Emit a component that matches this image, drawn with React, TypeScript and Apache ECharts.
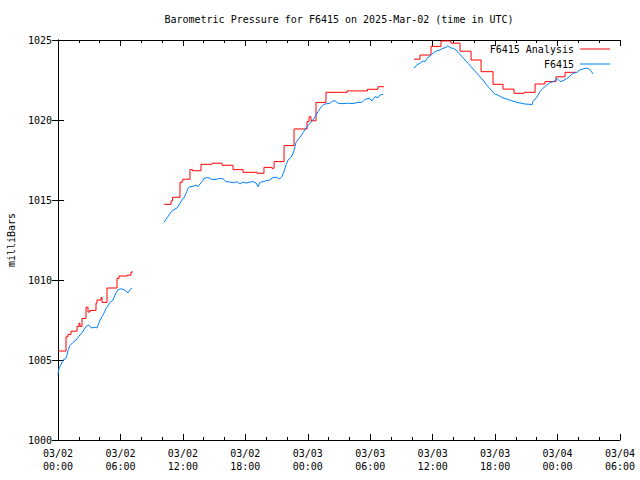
import React, { useEffect, useRef } from "react";
import * as echarts from "echarts";

const TITLE = "Barometric Pressure for F6415 on 2025-Mar-02 (time in UTC)";
const Y_NAME = "milliBars";
const SERIES_NAMES = ["F6415 Analysis", "F6415"];
const X_MIN = 0;
const X_MAX = 54;
const X_STEP = 6;
const Y_MIN = 1000;
const Y_MAX = 1025;
const Y_STEP = 5;

// hours since 03/02 00:00 UTC, millibars
const analysisSeg1: [number, number][] = [
  [0.0, 1005.56], [0.77, 1006.45], [0.96, 1006.6], [1.25, 1006.8], [1.83, 1007.1],
  [2.02, 1007.3], [2.11, 1007.1], [2.31, 1007.6], [2.69, 1008.3], [2.88, 1008.0],
  [3.07, 1008.1], [3.65, 1008.55], [3.75, 1008.75], [4.13, 1008.9], [4.23, 1008.6],
  [4.71, 1009.5], [5.67, 1010.1], [5.86, 1010.25], [6.63, 1010.3], [7.01, 1010.5],
  [7.2, 1010.5],
];
const analysisSeg2: [number, number][] = [
  [10.19, 1014.73], [10.86, 1014.94], [11.0, 1015.17], [11.72, 1016.1], [11.92, 1016.2],
  [12.01, 1016.3], [12.68, 1016.9], [12.92, 1016.83], [13.74, 1017.23], [14.8, 1017.3],
  [15.76, 1017.17], [16.82, 1016.9], [17.78, 1016.73], [19.12, 1016.67], [19.79, 1017.04],
  [20.56, 1016.98], [20.76, 1017.4], [21.72, 1018.4], [22.68, 1019.44], [23.93, 1019.9],
  [24.12, 1020.2], [24.31, 1019.95], [24.79, 1021.1], [25.75, 1021.73], [27.77, 1021.82],
  [29.74, 1021.92], [30.75, 1022.08], [31.33, 1022.08],
];
const analysisSeg3: [number, number][] = [
  [34.21, 1023.8], [34.78, 1024.06], [35.84, 1024.6], [36.8, 1024.94], [37.76, 1024.8],
  [38.63, 1024.3], [39.69, 1023.75], [40.65, 1023.02], [41.8, 1022.23], [42.76, 1021.93],
  [43.82, 1021.67], [44.78, 1021.73], [45.84, 1022.25], [46.8, 1022.4], [47.85, 1022.7],
  [48.72, 1022.98], [49.77, 1022.98],
];

const stationSeg1: [number, number][] = [
  [0.0, 1004.1], [0.1, 1004.5], [0.29, 1004.7], [0.48, 1005.0], [0.77, 1005.1],
  [0.86, 1005.3], [0.96, 1005.6], [1.15, 1005.9], [1.44, 1006.1], [1.73, 1006.25],
  [2.02, 1006.5], [2.31, 1006.7], [2.59, 1007.0], [2.88, 1007.2], [3.07, 1007.1],
  [3.27, 1007.0], [3.56, 1007.05], [3.75, 1007.0], [4.04, 1007.5], [4.32, 1007.8],
  [4.61, 1008.2], [5.0, 1008.6], [5.28, 1008.75], [5.57, 1009.2], [5.77, 1009.4],
  [6.05, 1009.45], [6.34, 1009.4], [6.53, 1009.3], [6.73, 1009.2], [6.92, 1009.4],
  [7.11, 1009.5],
];
const stationSeg2: [number, number][] = [
  [10.19, 1013.6], [10.38, 1013.8], [10.57, 1013.96], [10.86, 1014.27], [11.15, 1014.4],
  [11.43, 1014.5], [11.72, 1014.8], [11.92, 1015.0], [12.11, 1015.17], [12.3, 1015.4],
  [12.49, 1015.73], [12.68, 1015.83], [12.97, 1015.85], [13.26, 1015.94], [13.45, 1015.83],
  [13.64, 1016.0], [13.84, 1016.15], [14.03, 1016.35], [14.32, 1016.4], [14.51, 1016.38],
  [14.7, 1016.3], [14.89, 1016.28], [15.28, 1016.3], [15.57, 1016.35], [15.85, 1016.33],
  [16.14, 1016.15], [16.53, 1016.12], [16.91, 1016.08], [17.2, 1016.15], [17.49, 1016.0],
  [17.78, 1016.12], [18.06, 1016.06], [18.45, 1016.12], [18.74, 1016.15], [19.03, 1016.06],
  [19.22, 1015.83], [19.41, 1016.1], [19.7, 1016.15], [19.99, 1016.2], [20.37, 1016.25],
  [20.56, 1016.38], [20.76, 1016.42], [21.04, 1016.42], [21.24, 1016.3], [21.52, 1016.46],
  [21.72, 1016.8], [21.91, 1017.2], [22.1, 1017.5], [22.29, 1017.6], [22.48, 1017.75],
  [22.68, 1018.1], [22.87, 1018.6], [23.16, 1018.85], [23.35, 1019.0], [23.54, 1019.2],
  [23.83, 1019.5], [24.12, 1019.73], [24.41, 1019.94], [24.7, 1020.2], [24.98, 1020.52],
  [25.27, 1020.8], [25.56, 1020.98], [25.85, 1021.02], [26.13, 1021.05], [26.42, 1021.19],
  [26.62, 1021.2], [26.9, 1021.05], [27.39, 1021.02], [27.87, 1021.05], [28.35, 1021.03],
  [28.83, 1021.1], [29.21, 1021.1], [29.5, 1021.3], [29.89, 1021.35], [30.18, 1021.2],
  [30.46, 1021.46], [30.75, 1021.4], [30.94, 1021.56], [31.23, 1021.6],
];
const stationSeg3: [number, number][] = [
  [34.21, 1023.23], [34.4, 1023.4], [34.59, 1023.48], [34.78, 1023.55], [35.07, 1023.69],
  [35.26, 1023.65], [35.46, 1023.85], [35.74, 1024.0], [36.03, 1024.17], [36.32, 1024.3],
  [36.71, 1024.38], [36.99, 1024.48], [37.28, 1024.54], [37.47, 1024.64], [37.67, 1024.52],
  [37.96, 1024.48], [38.24, 1024.38], [38.53, 1024.17], [38.82, 1023.96], [39.11, 1023.75],
  [39.4, 1023.54], [39.69, 1023.33], [39.97, 1023.12], [40.26, 1022.92], [40.55, 1022.7],
  [40.84, 1022.5], [41.13, 1022.23], [41.42, 1022.02], [41.7, 1021.81], [41.99, 1021.6],
  [42.28, 1021.56], [42.66, 1021.4], [42.95, 1021.35], [43.24, 1021.28], [43.62, 1021.2],
  [44.1, 1021.1], [44.49, 1021.05], [44.87, 1021.0], [45.35, 1020.98], [45.54, 1020.94],
  [45.64, 1021.15], [46.03, 1021.45], [46.31, 1021.77], [46.6, 1021.98], [46.99, 1022.19],
  [47.28, 1022.33], [47.76, 1022.45], [47.95, 1022.6], [48.24, 1022.4], [48.52, 1022.45],
  [48.91, 1022.6], [49.2, 1022.75], [49.49, 1022.92], [49.87, 1022.98], [50.16, 1023.13],
  [50.64, 1023.23], [50.93, 1023.23], [51.22, 1023.06], [51.41, 1022.88],
];

const FONT = "DejaVu Sans Mono";

// expand change points into explicit step vertices (horizontal, then vertical)
function toSteps(seg: [number, number][]): [number, number][] {
  const out: [number, number][] = [];
  seg.forEach((p, i) => {
    if (i > 0) out.push([p[0], seg[i - 1][1]]);
    out.push(p);
  });
  return out;
}

function joinSegments(segs: [number, number][][]): any[] {
  const out: any[] = [];
  segs.forEach((s, i) => {
    if (i > 0) out.push([s[0][0] - 0.01, "-"]);
    s.forEach((p) => out.push(p));
  });
  return out;
}

function pad(n: number) {
  return n < 10 ? "0" + n : "" + n;
}

function formatHour(v: number) {
  const day = 2 + Math.floor(v / 24);
  const hh = Math.round(v % 24);
  return "03/" + pad(day) + "\n" + pad(hh) + ":00";
}

export default function App() {
  const ref = useRef<HTMLDivElement>(null);
  useEffect(() => {
    if (!ref.current) return;
    const chart = echarts.init(ref.current, undefined, { renderer: "svg" });
    const xCommon = {
      type: "value" as const,
      min: X_MIN,
      max: X_MAX,
      interval: X_STEP,
      axisLine: { show: true, lineStyle: { color: "#000", width: 1 } },
      axisTick: { show: true, inside: true, length: 6, lineStyle: { color: "#000" } },
      minorTick: { show: true, splitNumber: 3, length: 3, lineStyle: { color: "#000" } },
      splitLine: { show: false },
      minorSplitLine: { show: false },
    };
    const yCommon = {
      type: "value" as const,
      min: Y_MIN,
      max: Y_MAX,
      interval: Y_STEP,
      axisLine: { show: true, lineStyle: { color: "#000", width: 1 } },
      axisTick: { show: true, inside: true, length: 6, lineStyle: { color: "#000" } },
      splitLine: { show: false },
    };
    const legendCommon = {
      right: 30,
      align: "right",
      padding: 0,
      icon: "rect",
      itemWidth: 30,
      itemHeight: 1,
      itemGap: 0,
      textStyle: { fontFamily: FONT, fontSize: 10, color: "#000", padding: [0, 1, 0, 0] },
    };
    chart.setOption({
      animation: false,
      backgroundColor: "#fff",
      title: {
        text: TITLE,
        left: 339,
        top: 14,
        padding: 0,
        textAlign: "center",
        textStyle: { fontFamily: FONT, fontSize: 10, fontWeight: "normal", color: "#000" },
      },
      legend: [
        { ...legendCommon, data: [SERIES_NAMES[0]], top: 44 },
        { ...legendCommon, data: [SERIES_NAMES[1]], top: 59 },
      ],
      grid: {
        left: 58,
        right: 20,
        top: 40,
        bottom: 40,
        containLabel: false,
        outerBoundsMode: "none",
      },
      xAxis: [
        {
          ...xCommon,
          position: "bottom",
          axisLabel: {
            show: true,
            color: "#000",
            fontFamily: FONT,
            fontSize: 10,
            lineHeight: 13,
            margin: 7,
            formatter: (v: number) => formatHour(v),
          },
        },
        { ...xCommon, position: "top", axisLabel: { show: false } },
      ],
      yAxis: [
        {
          ...yCommon,
          position: "left",
          name: Y_NAME,
          nameLocation: "middle",
          nameGap: 42,
          nameTextStyle: { fontFamily: FONT, fontSize: 10, color: "#000" },
          axisLabel: {
            show: true,
            color: "#000",
            fontFamily: FONT,
            fontSize: 10,
            margin: 6,
            formatter: (v: number) => String(v),
          },
        },
        { ...yCommon, position: "right", axisLabel: { show: false } },
      ],
      series: [
        {
          name: SERIES_NAMES[0],
          type: "line",
          xAxisIndex: 0,
          yAxisIndex: 0,
          data: joinSegments([toSteps(analysisSeg1), toSteps(analysisSeg2), toSteps(analysisSeg3)]),
          symbol: "none",
          showSymbol: false,
          connectNulls: false,
          lineStyle: { color: "#ff0000", width: 1 },
          itemStyle: { color: "#ff0000" },
        },
        {
          name: SERIES_NAMES[1],
          type: "line",
          xAxisIndex: 0,
          yAxisIndex: 0,
          data: joinSegments([stationSeg1, stationSeg2, stationSeg3]),
          symbol: "none",
          showSymbol: false,
          connectNulls: false,
          lineStyle: { color: "#0080ff", width: 1 },
          itemStyle: { color: "#0080ff" },
        },
      ],
    });
    return () => chart.dispose();
  }, []);
  return (
    <div
      ref={ref}
      style={{ position: "fixed", left: 0, top: 0, width: 640, height: 480, background: "#fff" }}
    />
  );
}
